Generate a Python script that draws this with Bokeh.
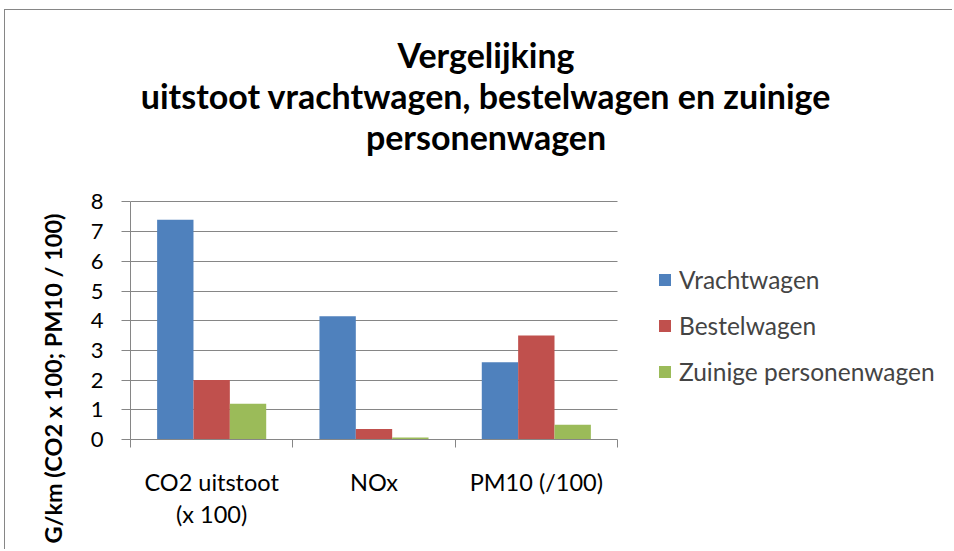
from bokeh.plotting import figure
from bokeh.models import FixedTicker, Label, Legend, LegendItem, Range1d, Title, Grid
from bokeh.embed import file_html
from bokeh.resources import INLINE

# ---- data ----
categories = ["CO2 uitstoot\n(x 100)", "NOx", "PM10 (/100)"]
series_names = ["Vrachtwagen", "Bestelwagen", "Zuinige personenwagen"]
vrachtwagen = [7.4, 4.15, 2.6]
bestelwagen = [2.0, 0.35, 3.5]
zuinige_personenwagen = [1.2, 0.07, 0.5]
y_ticks = [0, 1, 2, 3, 4, 5, 6, 7, 8]
title_lines = ["Vergelijking", "uitstoot vrachtwagen, bestelwagen en zuinige", "personenwagen"]
y_label = "G/km (CO2 x 100; PM10 / 100)"

colors = ["#4F81BD", "#C0504D", "#9BBB59"]
FONT = "Lato"
GREY = "#868686"

# ---- layout (canvas pixels) ----
W, H = 948, 540
ML, MB = 125, 111
FRAME_W = W - ML
FRAME_H = H - MB
PX_X = 162.33   # pixels per category
PX_Y = 29.7     # pixels per unit
x_end = FRAME_W / PX_X
y_end = FRAME_H / PX_Y

p = figure(width=W, height=H, output_backend="svg", toolbar_location=None,
           x_range=Range1d(0, x_end), y_range=Range1d(0, y_end),
           min_border_left=ML, min_border_right=0, min_border_top=0, min_border_bottom=MB)
p.outline_line_color = None
p.styles = {"margin-left": "4px", "margin-top": "9px",
            "border-left": "1px solid #868686", "border-top": "1px solid #868686"}

def dx(fig_x):
    return (fig_x - ML) / PX_X
def dy(fig_y):
    return (FRAME_H - fig_y) / PX_Y

bw = 0.224
series_vals = [vrachtwagen, bestelwagen, zuinige_personenwagen]
items = []
for j, (name, vals) in enumerate(zip(series_names, series_vals)):
    xs = [i + 0.5 + (j - 1) * bw for i in range(len(categories))]
    r = p.vbar(x=xs, top=vals, bottom=0, width=bw, fill_color=colors[j], line_color=None)
    items.append(LegendItem(label=name, renderers=[r]))

n = len(categories)
# x axis
xa = p.xaxis[0]
xa.bounds = (0, n)
xa.ticker = FixedTicker(ticks=[i + 0.5 for i in range(n)], minor_ticks=list(range(n + 1)))
xa.major_label_overrides = {i + 0.5: c for i, c in enumerate(categories)}
xa.major_tick_in = 0
xa.major_tick_out = 0
xa.minor_tick_in = 0
xa.minor_tick_out = 8
xa.minor_tick_line_color = GREY
xa.axis_line_color = GREY
xa.major_label_text_font = FONT
xa.major_label_text_font_size = "23.5px"
xa.major_label_text_color = "black"
xa.major_label_standoff = 20
xa.major_label_text_line_height = 1.16

# y axis
ya = p.yaxis[0]
ya.bounds = (0, max(y_ticks))
ya.ticker = FixedTicker(ticks=y_ticks)
ya.major_tick_in = 0
ya.major_tick_out = 9
ya.minor_tick_line_color = None
ya.major_tick_line_color = GREY
ya.axis_line_color = GREY
ya.major_label_text_font = FONT
ya.major_label_text_font_size = "22px"
ya.major_label_text_color = "black"
ya.major_label_standoff = 18

p.xgrid.grid_line_color = None
p.ygrid.ticker = FixedTicker(ticks=y_ticks)
if "cross_bounds" in Grid.properties():
    p.ygrid.grid_line_color = GREY
    p.ygrid.cross_bounds = (0, n)
else:
    p.ygrid.grid_line_color = None
    p.segment(x0=[0] * len(y_ticks), x1=[n] * len(y_ticks), y0=y_ticks, y1=y_ticks,
              line_color=GREY, line_width=1)

# legend
leg = Legend(items=items, location=(527, 53), padding=0, margin=0,
             border_line_color=None, background_fill_alpha=0,
             glyph_width=15, glyph_height=15, label_standoff=7,
             label_height=30, spacing=16,
             label_text_font=FONT, label_text_font_size="24.5px")
p.add_layout(leg, "center")

# chart title (three centred lines)
for txt, base in zip(title_lines, [44, 85, 126]):
    p.add_layout(Label(x=dx(480.5), y=dy(base), text=txt,
                       text_align="center", text_baseline="alphabetic",
                       text_font=FONT, text_font_style="bold", text_font_size="34px",
                       text_color="black"))

# y axis title, vertical on the left
p.add_layout(Title(text=y_label, align="right", offset=203, standoff=41,
                   text_font=FONT, text_font_style="bold", text_font_size="23.5px",
                   text_color="black"), "left")

open("out.html", "w").write(file_html(p, INLINE))
